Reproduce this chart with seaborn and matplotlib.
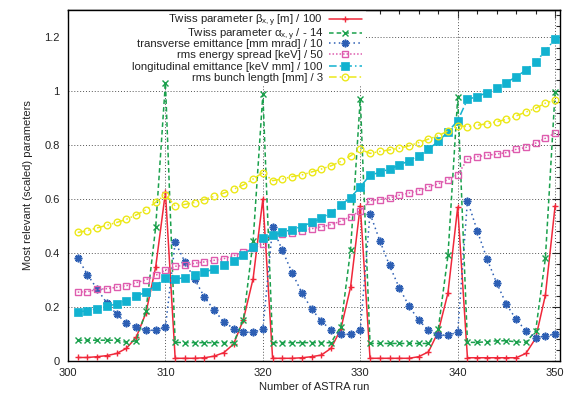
import numpy as np
import pandas as pd
import matplotlib
matplotlib.use("Agg")
import matplotlib.pyplot as plt
from matplotlib.ticker import MultipleLocator
from matplotlib.patches import Rectangle
import seaborn as sns

runs = list(range(301, 351))

beta = [0.013, 0.013, 0.016, 0.020, 0.028, 0.047, 0.088, 0.178, 0.348, 0.625,
        0.010, 0.010, 0.010, 0.012, 0.018, 0.031, 0.063, 0.153, 0.305, 0.600,
        0.010, 0.010, 0.010, 0.012, 0.016, 0.022, 0.047, 0.118, 0.273, 0.575,
        0.010, 0.010, 0.010, 0.010, 0.010, 0.016, 0.034, 0.108, 0.252, 0.570,
        0.012, 0.012, 0.012, 0.012, 0.012, 0.012, 0.028, 0.084, 0.244, 0.575]

alpha = [0.077, 0.077, 0.077, 0.077, 0.077, 0.069, 0.075, 0.185, 0.496, 1.031,
         0.069, 0.068, 0.068, 0.068, 0.068, 0.068, 0.068, 0.152, 0.444, 0.988,
         0.068, 0.068, 0.068, 0.068, 0.068, 0.068, 0.068, 0.127, 0.410, 0.972,
         0.065, 0.065, 0.065, 0.065, 0.065, 0.065, 0.065, 0.117, 0.391, 0.976,
         0.069, 0.069, 0.071, 0.075, 0.075, 0.071, 0.069, 0.111, 0.381, 0.998]

trans_emit = [0.381, 0.320, 0.266, 0.214, 0.173, 0.141, 0.125, 0.114, 0.114, 0.125,
              0.440, 0.367, 0.303, 0.237, 0.188, 0.145, 0.120, 0.107, 0.106, 0.118,
              0.495, 0.410, 0.327, 0.253, 0.193, 0.148, 0.114, 0.099, 0.099, 0.114,
              0.546, 0.446, 0.354, 0.271, 0.204, 0.151, 0.114, 0.096, 0.096, 0.106,
              0.594, 0.483, 0.379, 0.289, 0.210, 0.154, 0.112, 0.087, 0.092, 0.100]

energy_spread = [0.255, 0.257, 0.265, 0.268, 0.273, 0.279, 0.290, 0.301, 0.317, 0.337,
                 0.351, 0.354, 0.362, 0.367, 0.373, 0.379, 0.390, 0.403, 0.418, 0.434,
                 0.466, 0.471, 0.475, 0.482, 0.490, 0.497, 0.505, 0.518, 0.535, 0.556,
                 0.594, 0.598, 0.604, 0.614, 0.622, 0.631, 0.645, 0.656, 0.672, 0.690,
                 0.747, 0.757, 0.762, 0.766, 0.772, 0.784, 0.791, 0.807, 0.825, 0.844]

long_emit = [0.182, 0.186, 0.194, 0.202, 0.212, 0.224, 0.239, 0.256, 0.279, 0.307,
             0.303, 0.309, 0.318, 0.328, 0.342, 0.354, 0.370, 0.392, 0.421, 0.456,
             0.468, 0.477, 0.487, 0.498, 0.513, 0.528, 0.550, 0.578, 0.605, 0.645,
             0.688, 0.699, 0.711, 0.725, 0.742, 0.761, 0.785, 0.813, 0.849, 0.890,
             0.969, 0.979, 0.994, 1.012, 1.031, 1.053, 1.077, 1.108, 1.148, 1.194]

bunch_length = [0.476, 0.483, 0.493, 0.503, 0.513, 0.525, 0.541, 0.560, 0.588, 0.616,
                0.574, 0.580, 0.587, 0.598, 0.610, 0.622, 0.636, 0.652, 0.674, 0.698,
                0.668, 0.674, 0.683, 0.689, 0.700, 0.711, 0.723, 0.739, 0.760, 0.784,
                0.769, 0.776, 0.782, 0.788, 0.797, 0.809, 0.822, 0.834, 0.852, 0.872,
                0.868, 0.873, 0.879, 0.886, 0.895, 0.908, 0.922, 0.936, 0.955, 0.966]

labels = [r"Twiss parameter $\beta_{x,y}$ [m] / 100",
          r"Twiss parameter $\alpha_{x,y}$ / - 14",
          "transverse emittance [mm mrad] / 10",
          "rms energy spread [keV] / 50",
          "longitudinal emittance [keV mm] / 100",
          "rms bunch length [mm] / 3"]

x_ticks = [300, 310, 320, 330, 340, 350]
y_ticks = [0, 0.2, 0.4, 0.6, 0.8, 1, 1.2]

sns.set_theme(style="white")
plt.rcParams["font.family"] = ["Liberation Sans", "DejaVu Sans"]
plt.rcParams["mathtext.fontset"] = "custom"
plt.rcParams["mathtext.rm"] = "Liberation Sans"
plt.rcParams["mathtext.it"] = "Liberation Sans"
plt.rcParams["mathtext.bf"] = "Liberation Sans:bold"

fig = plt.figure(figsize=(5.68, 3.95), dpi=100)
ax = fig.add_axes([68 / 568, 1 - 361 / 395, (560 - 68) / 568, (361 - 10) / 395])
ax.set_axisbelow(True)

series = [beta, alpha, trans_emit, energy_spread, long_emit, bunch_length]
colors = ["#f0283a", "#1aa04c", "#2d5fb4", "#de5cae", "#12b2d0", "#ece81a"]
styles = [
    dict(linestyle="-", marker="+", markersize=5, markeredgewidth=1.0),
    dict(linestyle=(0, (3, 2)), marker="x", markersize=3.8, markeredgewidth=1.0),
    dict(linestyle=(0, (1, 2.2)), marker=(8, 2, 0), markersize=5.5, markeredgewidth=1.2),
    dict(linestyle=(0, (1, 1.3)), marker="s", markersize=4.6, markeredgewidth=1.0,
         markerfacecolor="none"),
    dict(linestyle=(0, (5, 2, 1, 2)), marker="s", markersize=5.4, markeredgewidth=0.5),
    dict(linestyle=(0, (5, 2, 1, 2, 1, 2)), marker="o", markersize=4.8, markeredgewidth=1.0,
         markerfacecolor="none"),
]

handles = []
for vals, col, st, lab in zip(series, colors, styles, labels):
    df = pd.DataFrame({"run": runs, "value": vals})
    sns.lineplot(data=df, x="run", y="value", ax=ax, color=col, linewidth=1.1,
                 label=lab, zorder=3, markeredgecolor=col, **st)
    handles.append(ax.lines[-1])

ax.set_xlim(300, 350.5)
ax.set_ylim(0, 1.3)
ax.set_xticks(x_ticks)
ax.set_xticklabels([str(t) for t in x_ticks])
ax.set_yticks(y_ticks)
ax.set_yticklabels([f"{t:g}" for t in y_ticks])
ax.xaxis.set_minor_locator(MultipleLocator(1))
ax.yaxis.set_minor_locator(MultipleLocator(0.04))
ax.tick_params(axis="both", which="major", direction="in", length=6, width=0.8,
               labelsize=8, colors="#222222", top=False, right=True, pad=6)
ax.tick_params(axis="both", which="minor", direction="in", length=3, width=0.8,
               top=False, right=True)
ax.tick_params(axis="x", which="major", pad=5)

sec = ax.secondary_xaxis("top")
sec.set_xticks(x_ticks)
sec.xaxis.set_minor_locator(MultipleLocator(2))
sec.tick_params(axis="x", which="major", direction="in", length=6, width=0.8,
                labeltop=False)
sec.tick_params(axis="x", which="minor", direction="in", length=3, width=0.8)
sec.spines["top"].set_linewidth(1.0)
sec.spines["top"].set_color("black")

ax.grid(True, which="major", linestyle=(0, (1, 2)), color="#555555", linewidth=0.7)
for sp in ax.spines.values():
    sp.set_visible(True)
    sp.set_color("black")
    sp.set_linewidth(1.0)

# opaque key area (as in the original gnuplot key)
ax.add_patch(Rectangle((0, (361 - 86) / 351), (366 - 68) / 492, 1 - (361 - 86) / 351,
                       transform=ax.transAxes, facecolor="white", edgecolor="none",
                       zorder=1))

ax.set_xlabel("Number of ASTRA run", fontsize=8, color="#222222", labelpad=3)
ax.set_ylabel("Most relevant (scaled) parameters", fontsize=8, color="#222222",
              labelpad=8)

leg_kw = dict(loc="upper right", markerfirst=False, fontsize=8.2, handlelength=2.9,
              handletextpad=0.5, borderpad=0.2, borderaxespad=0, numpoints=1,
              frameon=False)
right = (364 - 68) / 492
legA = ax.legend(handles[:2], labels[:2], bbox_to_anchor=(right, 1.0),
                 labelspacing=-0.2, **leg_kw)
ax.add_artist(legA)
legB = ax.legend(handles[2:], labels[2:], bbox_to_anchor=(right, (361 - 37) / 351),
                 labelspacing=0.1, **leg_kw)
for lg in (legA, legB):
    lg.set_zorder(5)
    for t in lg.get_texts():
        t.set_color("#222222")

fig.savefig("out.png", dpi=100)
